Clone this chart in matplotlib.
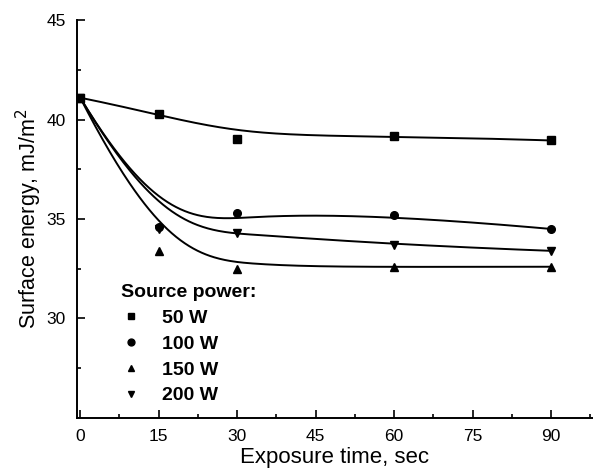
import numpy as np
import matplotlib.pyplot as plt

# Datos
t = [0, 15, 30, 60, 90]
e50 = [41.1, 40.3, 39.0, 39.2, 38.95]
e100 = [41.1, 34.6, 35.3, 35.2, 34.5]
e150 = [41.1, 33.4, 32.5, 32.6, 32.6]
e200 = [41.1, 34.5, 34.3, 33.7, 33.4]
labels = ['50 W', '100 W', '150 W', '200 W']
markers = ['s', 'o', '^', 'v']

plt.rcParams['font.family'] = ['Liberation Sans', 'DejaVu Sans']


# B-spline cubico (los puntos son puntos de control, como la linea "B-Spline")
def bspline(px, py, k=3, n=300):
    P = np.column_stack([px, py]).astype(float)
    m = len(P)
    inner = np.arange(1, m - k)
    knots = np.concatenate([np.zeros(k + 1), inner, np.full(k + 1, m - k)])
    u = np.linspace(0, m - k, n)
    u[-1] -= 1e-9

    def N(i, p, x):
        if p == 0:
            return ((knots[i] <= x) & (x < knots[i + 1])).astype(float)
        a = 0.0
        b = 0.0
        d1 = knots[i + p] - knots[i]
        d2 = knots[i + p + 1] - knots[i + 1]
        if d1 > 0:
            a = (x - knots[i]) / d1 * N(i, p - 1, x)
        if d2 > 0:
            b = (knots[i + p + 1] - x) / d2 * N(i + 1, p - 1, x)
        return a + b

    B = np.array([N(i, k, u) for i in range(m)])
    c = B.T @ P
    return c[:, 0], c[:, 1]


fig = plt.figure(figsize=(5.93, 4.69), dpi=100)
ax = fig.add_axes([0.130, 0.109, 0.87, 0.848])

for y, lab, m in zip([e50, e100, e150, e200], labels, markers):
    cx, cy = bspline(t, y)
    ax.plot(cx, cy, color='black', lw=1.4)
    ax.plot(t, y, m, color='black', ms=5.5, ls='none', label=lab)

ax.set_xlim(-0.6, 98)
ax.set_ylim(25, 45)
ax.set_xticks([0, 15, 30, 45, 60, 75, 90])
ax.set_xticks(np.arange(7.5, 98, 15), minor=True)
ax.set_yticks([30, 35, 40, 45])
ax.set_yticks([27.5, 32.5, 37.5, 42.5], minor=True)
ax.tick_params(which='both', direction='in', labelsize=12.5, width=1.2, pad=8)
ax.tick_params(which='major', length=6)
ax.tick_params(which='minor', length=3)
ax.spines['top'].set_visible(False)
ax.spines['right'].set_visible(False)
ax.spines['left'].set_linewidth(1.4)
ax.spines['bottom'].set_linewidth(1.4)

ax.set_xlabel('Exposure time, sec', fontsize=16, labelpad=2)
ax.set_ylabel('Surface energy, mJ/m$^2$', fontsize=15.5, labelpad=2)

leg = ax.legend(loc='lower left', bbox_to_anchor=(0.052, -0.01), frameon=False,
                title='Source power:', alignment='left',
                prop={'weight': 'bold', 'size': 14},
                title_fontproperties={'weight': 'bold', 'size': 14},
                handletextpad=1.1, labelspacing=0.42, markerscale=0.9,
                handlelength=1.0)

fig.savefig('out.png', dpi=100)
